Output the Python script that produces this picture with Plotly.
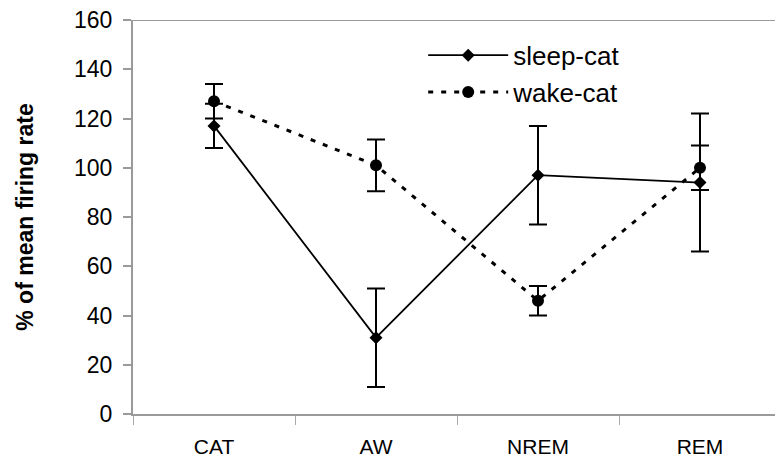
import plotly.graph_objects as go

categories = ["CAT", "AW", "NREM", "REM"]
sleep_cat = [117, 31, 97, 94]
sleep_err = [9, 20, 20, 28]
wake_cat = [127, 101, 46, 100]
wake_err = [7, 10.5, 6, 9]
y_ticks = [0, 20, 40, 60, 80, 100, 120, 140, 160]

x_idx = list(range(len(categories)))

fig = go.Figure()
fig.add_trace(go.Scatter(
    x=x_idx, y=sleep_cat, name="sleep-cat", mode="lines+markers",
    line=dict(color="black", width=1.8),
    marker=dict(symbol="diamond", size=10, color="black"),
    error_y=dict(type="data", array=sleep_err, visible=True, color="black", thickness=2, width=9),
))
fig.add_trace(go.Scatter(
    x=x_idx, y=wake_cat, name="wake-cat", mode="lines+markers",
    line=dict(color="black", width=3, dash="5px,8px"),
    marker=dict(symbol="circle", size=12, color="black"),
    error_y=dict(type="data", array=wake_err, visible=True, color="black", thickness=2, width=9),
))

# top border line at y=160
fig.add_shape(type="line", xref="paper", yref="y", x0=0, x1=1, y0=160, y1=160,
              line=dict(color="#9a9a9a", width=2))

fig.update_layout(
    width=775, height=466,
    margin=dict(l=133, r=0, t=20, b=52),
    paper_bgcolor="white", plot_bgcolor="white",
    font=dict(family="Liberation Sans, Arial, sans-serif", size=22, color="black"),
    showlegend=True,
    legend=dict(x=0.452, y=0.97, xanchor="left", yanchor="top",
                bgcolor="rgba(0,0,0,0)", font=dict(size=26), itemwidth=80,
                tracegroupgap=0),
)
fig.update_xaxes(
    range=[-0.5, 3.463], tickmode="array", tickvals=x_idx, ticktext=categories,
    showgrid=False, zeroline=False, showline=True, linecolor="#9a9a9a", linewidth=2,
    ticks="", tickfont=dict(size=21), ticklabelstandoff=13,
)
# category boundary ticks via minor ticks
fig.update_xaxes(minor=dict(tickmode="array", tickvals=[-0.5, 0.5, 1.5, 2.5],
                            ticks="outside", ticklen=9, tickcolor="#aaaaaa", tickwidth=1))
fig.update_yaxes(
    range=[0, 160], tickmode="array", tickvals=y_ticks,
    showgrid=False, zeroline=False, showline=True, linecolor="#9a9a9a", linewidth=2,
    ticks="outside", ticklen=8, tickcolor="#9a9a9a", tickwidth=1.5,
    tickfont=dict(size=23), ticklabelstandoff=6,
    title=dict(text="<b>% of mean firing rate</b>", font=dict(size=23), standoff=34),
)

fig.write_html("out.html")
